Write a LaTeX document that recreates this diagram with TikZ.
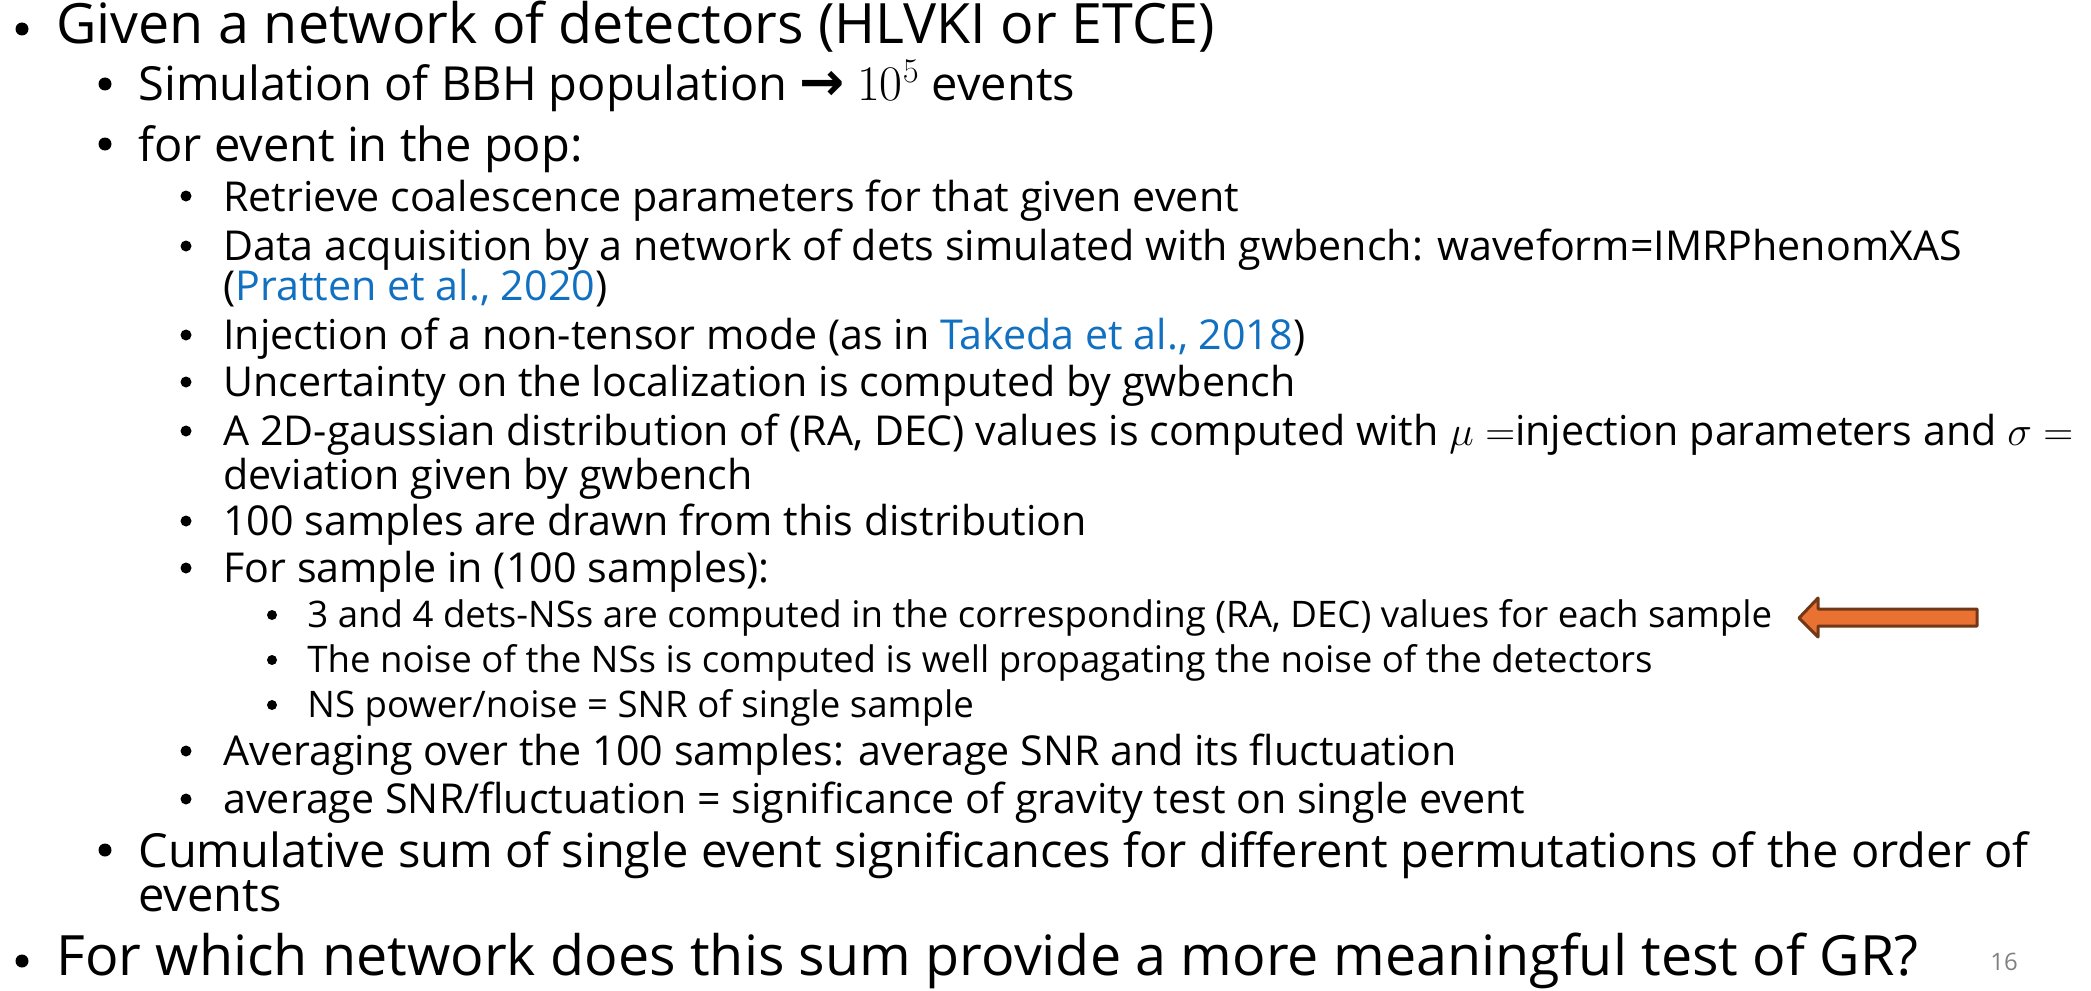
\documentclass[tikz,border=0pt]{standalone}
\usepackage{fontspec}
\setmainfont{Open Sans}
\newfontfamily\arrowfont{DejaVu Sans}
\definecolor{linkblue}{RGB}{17,112,192}
\definecolor{arrowfill}{RGB}{233,113,50}
\definecolor{arrowline}{RGB}{112,56,22}
\begin{document}
\begin{tikzpicture}[x=0.5pt,y=-0.5pt,line join=round,
	every node/.style={inner sep=0pt,anchor=base west},
	lone/.style={font=\fontsize{27.8}{30}\selectfont},
	ltwo/.style={font=\fontsize{23.5}{26}\selectfont},
	lthree/.style={font=\fontsize{20.6}{23}\selectfont},
	lfour/.style={font=\fontsize{18.3}{21}\selectfont},
	cite/.style={text=linkblue}]
	\def\xa{56} % level 1 indent
	\def\xb{138} % level 2 indent
	\def\xc{223} % level 3 indent
	\def\xd{307} % level 4 indent
	\useasboundingbox (0,0) rectangle (2091,990);
	% first level
	\node[lone] (given) at (\xa,44) {Given a network of detectors (HLVKI or ETCE)};
	\node[lone] (final) at (\xa,975) {For which network does this sum provide a more meaningful test of GR?};
	% second level
	\node[ltwo] (sim) at (\xb,101) {Simulation of BBH population {\arrowfont\bfseries\fontsize{27}{27}\selectfont →} $10^{5}$ events};
	\node[ltwo] (loop) at (\xb,161) {for event in the pop:};
	\node[ltwo] (cum) at (\xb,867) {Cumulative sum of single event significances for different permutations of the order of};
	\node[ltwo] (cumb) at (\xb,911) {events};
	% third level
	\node[lthree] (retr) at (\xc,211) {Retrieve coalescence parameters for that given event};
	\node[lthree] (acq) at (\xc,260) {Data acquisition by a network of dets simulated with gwbench: waveform=IMRPhenomXAS};
	\node[lthree] (acqb) at (\xc,300) {(\textcolor{linkblue}{Pratten et al., 2020})};
	\node[lthree] (inj) at (\xc,349) {Injection of a non-tensor mode (as in \textcolor{linkblue}{Takeda et al., 2018})};
	\node[lthree] (unc) at (\xc,396) {Uncertainty on the localization is computed by gwbench};
	\node[lthree] (gauss) at (\xc,445) {A 2D-gaussian distribution of (RA, DEC) values is computed with $\mu =$injection parameters and $\sigma =$};
	\node[lthree] (gaussb) at (\xc,489) {deviation given by gwbench};
	\node[lthree] (draw) at (\xc,535) {100 samples are drawn from this distribution};
	\node[lthree] (samp) at (\xc,582) {For sample in (100 samples):};
	\node[lthree] (avg) at (\xc,765) {Averaging over the 100 samples: average SNR and its fluctuation};
	\node[lthree] (sig) at (\xc,813) {average SNR/fluctuation = significance of gravity test on single event};
	% fourth level
	\node[lfour] (ns) at (\xd,627) {3 and 4 dets-NSs are computed in the corresponding (RA, DEC) values for each sample};
	\node[lfour] (noise) at (\xd,672) {The noise of the NSs is computed is well propagating the noise of the detectors};
	\node[lfour] (power) at (\xd,717) {NS power/noise = SNR of single sample};
	% bullets
	\foreach \x/\y/\r in {22/29/6.5,22/961/6.5,
		105/84/6.5,105/144/6.5,105/850/6.5,
		186/196/5.5,186/246/5.5,186/335/5.5,186/382/5.5,186/431/5.5,186/521/5.5,186/568/5.5,186/751/5.5,186/799/5.5,
		272/615/5,272/660/5,272/705/5}
		\fill (\x,\y) circle[radius=\r*0.5pt];
	% arrow pointing at the NSs line
	\draw[fill=arrowfill,draw=arrowline,line width=1.5pt] (1799,618)--(1818,598)--(1818,609)--(1977,609)--(1977,626)--(1818,626)--(1818,637)--cycle;
	\node[font=\fontsize{12}{14}\selectfont,text=gray] (page) at (1990,970) {16};
\end{tikzpicture}
\end{document}
